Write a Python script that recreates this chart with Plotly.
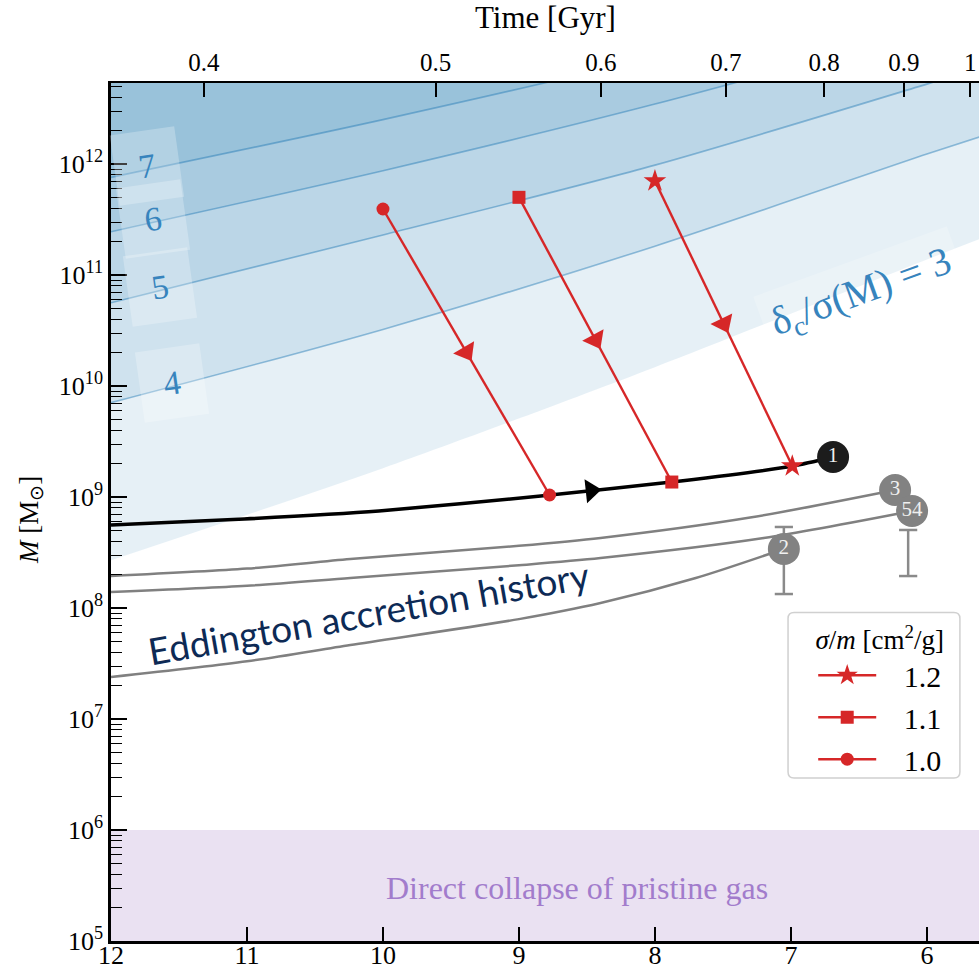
import numpy as np
import plotly.graph_objects as go

# ---------------------------------------------------------------------------
# data
# ---------------------------------------------------------------------------
# redshift grid on which the delta_c / sigma(M) = nu boundaries are sampled
z_grid = [12.0, 10.0, 8.0, 6.0, 5.6]
nu_levels = [3, 4, 5, 6, 7]
logM_nu3 = [8.43, 9.26, 10.17, 11.14, 11.33]
logM_nu4 = [9.85, 10.51, 11.26, 12.09, 12.25]
logM_nu5 = [10.75, 11.36, 11.99, 12.72, 12.87]
logM_nu6 = [11.39, 11.94, 12.54, 13.21, 13.35]
logM_nu7 = [11.88, 12.40, 12.97, 13.63, 13.77]
nu_label_z = [None, 11.55, 11.64, 11.69, 11.735]

# seed black-hole track (object 1)
z_bh = [12.0, 11.02, 10.03, 8.84, 7.81, 6.985, 6.69]
logM_bh = [8.748, 8.802, 8.874, 9.009, 9.144, 9.279, 9.36]
z_bh_arrow = 8.47

# SIDM core-collapse tracks
sigma_m = ["1.2", "1.1", "1.0"]
sigma_symbol = ["star", "square", "circle"]
z_start = [8.0, 9.0, 10.0]
logM_start = [11.847, 11.70, 11.595]
z_end = [6.99, 7.876, 8.775]
logM_end = [9.279, 9.135, 9.018]

# Eddington-limited growth histories of the other objects
z_edd3 = [12.0, 11.0, 10.24, 9.0, 8.40, 7.30, 6.234]
logM_edd3 = [8.288, 8.355, 8.441, 8.560, 8.631, 8.815, 9.063]
z_edd54 = [12.0, 11.0, 10.24, 9.0, 8.40, 7.20, 6.109]
logM_edd54 = [8.144, 8.200, 8.270, 8.385, 8.450, 8.630, 8.874]
z_edd2 = [12.0, 11.0, 10.24, 9.0, 8.40, 7.7, 7.052]
logM_edd2 = [7.378, 7.520, 7.667, 7.900, 8.045, 8.270, 8.532]

# observed objects
obj_labels = ["1", "3", "54", "2"]
obj_z = [6.69, 6.234, 6.109, 7.052]
obj_logM = [9.36, 9.063, 8.874, 8.532]
obj_color = ["#1c1c1c", "#828282", "#828282", "#828282"]

# mass error bars
err_z = [7.052, 6.138]
err_lo = [8.126, 8.288]
err_hi = [8.730, 8.703]

# direct-collapse mass window
dc_logM = [5.0, 6.0]

# top axis: cosmic time ticks [Gyr]
time_ticks = [0.4, 0.5, 0.6, 0.7, 0.8, 0.9, 1.0]
time_labels = ["0.4", "0.5", "0.6", "0.7", "0.8", "0.9", "1"]

z_ticks = [12, 11, 10, 9, 8, 7, 6]
y_exps = [5, 6, 7, 8, 9, 10, 11, 12]

# ---------------------------------------------------------------------------
# helpers
# ---------------------------------------------------------------------------
H0, OM, OL = 67.7, 0.31, 0.69
T_HUBBLE = 977.8 / H0  # Gyr


def z_of_age(t):
    """Redshift at cosmic age t [Gyr] for flat LCDM."""
    a = np.sinh(np.asarray(t) * 3 * np.sqrt(OL) / (2 * T_HUBBLE)) / np.sqrt(OL / OM)
    return a ** (-2.0 / 3.0) - 1.0


def on_curve(z, zs, ms):
    return float(np.interp(-z, [-v for v in zs], ms))


Z_LEFT, Z_RIGHT = 12.0, 5.617
Y_RANGE = [5.0, 12.73]
SERIF = "Liberation Serif"
RED = "#d62728"
C0 = (31, 119, 180)
LABEL_BLUE = "#3784bd"
NBSP = "\u00a0"

fig = go.Figure()

# sigma-peak shading: each level shades everything above its boundary
boundaries = [logM_nu3, logM_nu4, logM_nu5, logM_nu6, logM_nu7]
for nu, bnd in zip(nu_levels, boundaries):
    fig.add_trace(go.Scatter(
        x=z_grid, y=[1e15] * len(z_grid), mode="lines", line=dict(width=0),
        showlegend=False, hoverinfo="skip"))
    fig.add_trace(go.Scatter(
        x=z_grid, y=[10 ** v for v in bnd], mode="lines", fill="tonexty",
        fillcolor=f"rgba({C0[0]},{C0[1]},{C0[2]},0.115)",
        line=dict(width=0, shape="spline", smoothing=0.8),
        showlegend=False, hoverinfo="skip"))
for nu, bnd in zip(nu_levels, boundaries):
    if nu == 3:
        continue
    fig.add_trace(go.Scatter(
        x=z_grid, y=[10 ** v for v in bnd], mode="lines",
        line=dict(color=f"rgba({C0[0]},{C0[1]},{C0[2]},0.45)", width=1.6,
                  shape="spline", smoothing=0.8),
        showlegend=False, hoverinfo="skip"))

# direct collapse window
fig.add_trace(go.Scatter(
    x=[Z_LEFT + 0.5, Z_RIGHT - 0.5, Z_RIGHT - 0.5, Z_LEFT + 0.5],
    y=[10 ** dc_logM[0], 10 ** dc_logM[0], 10 ** dc_logM[1], 10 ** dc_logM[1]],
    fill="toself", mode="none", fillcolor="rgba(148,103,189,0.2)",
    showlegend=False, hoverinfo="skip"))

# error bars
for ez, lo, hi in zip(err_z, err_lo, err_hi):
    fig.add_trace(go.Scatter(
        x=[ez, ez], y=[10 ** lo, 10 ** hi], mode="lines+markers",
        line=dict(color="#8a8a8a", width=2.5),
        marker=dict(symbol="line-ew", size=13, line=dict(color="#8a8a8a", width=2.5)),
        showlegend=False, hoverinfo="skip"))

# Eddington growth curves
for zz, mm in [(z_edd3, logM_edd3), (z_edd54, logM_edd54), (z_edd2, logM_edd2)]:
    fig.add_trace(go.Scatter(
        x=zz, y=[10 ** v for v in mm], mode="lines",
        line=dict(color="#808080", width=2.5, shape="spline", smoothing=0.8),
        showlegend=False, hoverinfo="skip"))

# black-hole seed track with direction arrow
fig.add_trace(go.Scatter(
    x=z_bh, y=[10 ** v for v in logM_bh], mode="lines",
    line=dict(color="black", width=3.5, shape="spline", smoothing=0.6),
    showlegend=False, hoverinfo="skip"))
arr_prev = z_bh_arrow + 0.05
fig.add_trace(go.Scatter(
    x=[arr_prev, z_bh_arrow],
    y=[10 ** on_curve(arr_prev, z_bh, logM_bh), 10 ** on_curve(z_bh_arrow, z_bh, logM_bh)],
    mode="markers",
    marker=dict(symbol="triangle-up", size=[0, 21], color="black", angleref="previous",
                opacity=1, line=dict(width=0)),
    showlegend=False, hoverinfo="skip"))

# SIDM tracks
for lab, sym, z0, m0, z1, m1 in zip(sigma_m, sigma_symbol, z_start, logM_start, z_end, logM_end):
    msize = 17 if sym == "star" else 13
    fig.add_trace(go.Scatter(
        x=[z0, z1], y=[10 ** m0, 10 ** m1], mode="lines+markers",
        line=dict(color=RED, width=2.4),
        marker=dict(symbol=sym, size=msize, color=RED, line=dict(width=0)),
        name=NBSP * 3 + lab, hoverinfo="skip"))
    zm, mm = 0.5 * (z0 + z1), 0.5 * (m0 + m1)
    fig.add_trace(go.Scatter(
        x=[z0, zm], y=[10 ** m0, 10 ** mm], mode="markers",
        marker=dict(symbol="triangle-up", size=[0, 21], color=RED, angleref="previous",
                    opacity=1, line=dict(width=0)),
        showlegend=False, hoverinfo="skip"))

# observed objects
for lab, zz, mm, col in zip(obj_labels, obj_z, obj_logM, obj_color):
    fig.add_trace(go.Scatter(
        x=[zz], y=[10 ** mm], mode="markers+text", text=[lab],
        textposition="middle center",
        textfont=dict(family=SERIF, size=21, color="#f0f0f0"),
        marker=dict(size=32, color=col, line=dict(width=0)),
        showlegend=False, hoverinfo="skip"))

# invisible trace to carry the top (time) axis
fig.add_trace(go.Scatter(x=[Z_LEFT, Z_RIGHT], y=[1e5, 1e5], xaxis="x2", mode="markers",
                         marker=dict(opacity=0), showlegend=False, hoverinfo="skip"))

# ---------------------------------------------------------------------------
# annotations
# ---------------------------------------------------------------------------
ann = []
for nu, bnd, lz in zip(nu_levels, boundaries, nu_label_z):
    if lz is None:
        continue
    ly = on_curve(lz, z_grid, bnd)
    ann.append(dict(x=lz, y=ly + 0.03, xref="x", yref="y", text=str(nu), showarrow=False,
                    textangle=-8, font=dict(family=SERIF, size=34, color=LABEL_BLUE),
                    bgcolor="rgba(255,255,255,0.25)", width=62, height=68))
lab3_z = 6.48
lab3_y = on_curve(lab3_z, z_grid, logM_nu3)
ann.append(dict(x=lab3_z, y=lab3_y - 0.07, xref="x", yref="y",
                text="δ<sub>c</sub>/σ(M) = 3", showarrow=False, textangle=-20,
                font=dict(family=SERIF, size=40, color=LABEL_BLUE),
                bgcolor="rgba(255,255,255,0.2)", borderpad=8))
ann.append(dict(x=10.107, y=7.964, xref="x", yref="y", text="Eddington accretion history",
                showarrow=False, textangle=-10,
                font=dict(family="Lato", size=37, color="#0d2a55")))
ann.append(dict(x=8.576, y=5.477, xref="x", yref="y", text="Direct collapse of pristine gas",
                showarrow=False, font=dict(family=SERIF, size=32, color="#a27ccc")))
ann.append(dict(x=-0.093, y=0.491, xref="paper", yref="paper", xanchor="center",
                yanchor="middle", text="<i>M</i> [M<sub>⊙</sub>]",
                showarrow=False, textangle=-90, font=dict(family=SERIF, size=27, color="black")))
ann.append(dict(x=0.5, y=1.076, xref="paper", yref="paper", xanchor="center",
                yanchor="middle", text="Time [Gyr]",
                showarrow=False, font=dict(family=SERIF, size=31, color="black")))

# rounded legend frame
lx0, lx1, ly0, ly1 = 0.780, 0.978, 0.190, 0.383
rx, ry = 6 / 868, 6 / 858
legend_path = (f"M {lx0+rx},{ly0} L {lx1-rx},{ly0} Q {lx1},{ly0} {lx1},{ly0+ry} "
               f"L {lx1},{ly1-ry} Q {lx1},{ly1} {lx1-rx},{ly1} L {lx0+rx},{ly1} "
               f"Q {lx0},{ly1} {lx0},{ly1-ry} L {lx0},{ly0+ry} Q {lx0},{ly0} {lx0+rx},{ly0} Z")
shapes = [dict(type="path", path=legend_path, xref="paper", yref="paper",
               fillcolor="rgba(255,255,255,0.85)", line=dict(color="#d0d0d0", width=1.5),
               layer="above")]

minor_vals = [m * 10 ** e for e in range(5, 13) for m in range(2, 10)]

fig.update_layout(
    width=979, height=971,
    margin=dict(l=111, r=0, t=83, b=30),
    plot_bgcolor="white", paper_bgcolor="white",
    showlegend=True,
    legend=dict(x=0.809, y=0.381, xanchor="left", yanchor="top", traceorder="normal",
                bgcolor="rgba(0,0,0,0)", borderwidth=0, itemwidth=58,
                font=dict(family=SERIF, size=30, color="black"),
                title=dict(text="<i>σ</i>/<i>m</i> [cm<sup>2</sup>/g]", side="top center",
                           font=dict(family=SERIF, size=27, color="black"))),
    xaxis=dict(range=[Z_LEFT, Z_RIGHT], tickmode="array", tickvals=z_ticks,
               ticktext=[str(v) for v in z_ticks], ticks="inside", ticklen=14, tickwidth=1.5,
               tickcolor="black", showline=True, linewidth=2.5, linecolor="black",
               showgrid=False, zeroline=False, automargin=False, ticklabelstandoff=-11,
               tickfont=dict(family=SERIF, size=26, color="black")),
    xaxis2=dict(range=[Z_LEFT, Z_RIGHT], overlaying="x", side="top", tickmode="array",
                tickvals=[float(v) for v in z_of_age(time_ticks)], ticktext=time_labels,
                ticks="inside", ticklen=14, tickwidth=1.5, tickcolor="black",
                showline=True, linewidth=2, linecolor="black", showgrid=False, zeroline=False,
                automargin=False, tickfont=dict(family=SERIF, size=25, color="black")),
    yaxis=dict(type="log", range=Y_RANGE, tickmode="array",
               tickvals=[10 ** e for e in y_exps],
               ticktext=[f"10<sup>{e}</sup>" for e in y_exps],
               ticks="inside", ticklen=16, tickwidth=1.5, tickcolor="black",
               minor=dict(tickmode="array", tickvals=minor_vals, ticks="inside", ticklen=11,
                          tickwidth=1.3, tickcolor="black", showgrid=False),
               showline=True, linewidth=2.5, linecolor="black", showgrid=False, zeroline=False,
               automargin=False, tickfont=dict(family=SERIF, size=26, color="black")),
    annotations=ann,
    shapes=shapes,
)

fig.write_html("out.html")
